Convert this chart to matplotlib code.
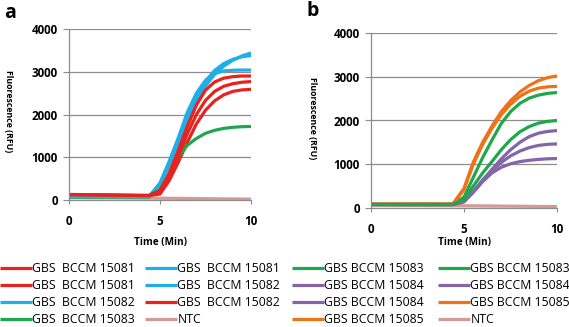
import matplotlib
matplotlib.use("Agg")
import matplotlib.pyplot as plt

# time points (min)
t = [0, 1, 2, 3, 4, 4.4, 5, 5.5, 6, 6.5, 7, 7.5, 8, 8.5, 9, 9.5, 10]

# panel a
a_blue1 = [80, 80, 80, 80, 80, 80, 350, 800, 1320, 1850, 2300, 2670, 2940, 3130, 3270, 3370, 3440]
a_blue2 = [80, 80, 80, 80, 80, 80, 380, 850, 1400, 1950, 2420, 2780, 3030, 3190, 3290, 3350, 3380]
a_blue3 = [80, 80, 80, 80, 80, 80, 400, 900, 1450, 2050, 2500, 2800, 2960, 3020, 3035, 3040, 3040]
a_red1 = [130, 125, 120, 115, 110, 110, 220, 620, 1150, 1720, 2220, 2570, 2760, 2850, 2885, 2900, 2900]
a_red2 = [125, 120, 115, 110, 105, 105, 180, 540, 1020, 1550, 2000, 2330, 2540, 2660, 2720, 2755, 2770]
a_red3 = [120, 115, 110, 105, 100, 100, 140, 450, 880, 1350, 1780, 2100, 2320, 2460, 2540, 2575, 2590]
a_green = [70, 70, 70, 70, 70, 70, 250, 600, 1000, 1280, 1440, 1560, 1630, 1675, 1700, 1715, 1720]
a_ntc = [55, 52, 50, 48, 45, 44, 42, 40, 38, 36, 33, 31, 29, 26, 24, 22, 20]

# panel b
b_orange1 = [90, 90, 90, 90, 90, 90, 450, 1050, 1500, 1870, 2200, 2450, 2650, 2800, 2910, 2980, 3020]
b_orange2 = [90, 90, 90, 90, 90, 90, 420, 1000, 1450, 1820, 2130, 2370, 2550, 2670, 2740, 2770, 2780]
b_green1 = [80, 80, 80, 80, 80, 80, 250, 700, 1150, 1550, 1930, 2200, 2390, 2510, 2580, 2620, 2640]
b_green2 = [80, 80, 80, 80, 80, 80, 200, 500, 800, 1060, 1330, 1560, 1740, 1860, 1940, 1980, 2000]
b_purple1 = [80, 80, 80, 80, 80, 80, 150, 380, 640, 880, 1120, 1330, 1500, 1630, 1710, 1750, 1770]
b_purple2 = [80, 80, 80, 80, 80, 80, 150, 370, 620, 850, 1040, 1190, 1300, 1380, 1430, 1455, 1465]
b_purple3 = [80, 80, 80, 80, 80, 80, 140, 360, 600, 800, 930, 1010, 1060, 1090, 1110, 1125, 1130]
b_ntc = [65, 62, 60, 58, 56, 55, 52, 50, 48, 46, 44, 42, 40, 38, 36, 34, 32]

xticks = [0, 5, 10]
yticks = [0, 1000, 2000, 3000, 4000]

RED = "#e8221e"
BLUE = "#20aee6"
GREEN = "#1fa84b"
PURPLE = "#8465a8"
ORANGE = "#ee7318"
NTC = "#d49a98"

# legend order: first column then second column
series_a = [
    (a_red1, RED, "GBS  BCCM 15081"),
    (a_red2, RED, "GBS  BCCM 15081"),
    (a_blue2, BLUE, "GBS  BCCM 15082"),
    (a_green, GREEN, "GBS  BCCM 15083"),
    (a_blue1, BLUE, "GBS  BCCM 15081"),
    (a_blue3, BLUE, "GBS  BCCM 15082"),
    (a_red3, RED, "GBS  BCCM 15082"),
    (a_ntc, NTC, "NTC"),
]
series_b = [
    (b_green2, GREEN, "GBS BCCM 15083"),
    (b_purple1, PURPLE, "GBS BCCM 15084"),
    (b_purple3, PURPLE, "GBS BCCM 15084"),
    (b_orange2, ORANGE, "GBS BCCM 15085"),
    (b_green1, GREEN, "GBS BCCM 15083"),
    (b_purple2, PURPLE, "GBS BCCM 15084"),
    (b_orange1, ORANGE, "GBS BCCM 15085"),
    (b_ntc, NTC, "NTC"),
]

plt.rcParams["font.family"] = ["Open Sans", "DejaVu Sans"]

fig = plt.figure(figsize=(5.69, 3.27), dpi=100)
ax_a = fig.add_axes([69 / 569, 1 - 200 / 327, 182 / 569, 171 / 327])
ax_b = fig.add_axes([371 / 569, 1 - 208 / 327, 186 / 569, 175 / 327])


def style(ax):
    ax.set_xlim(0, 10)
    ax.set_ylim(0, 4000)
    ax.set_xticks(xticks)
    ax.set_yticks(yticks)
    ax.grid(axis="y", color="#8c8c8c", lw=0.9)
    ax.set_axisbelow(True)
    for s in ["top", "right"]:
        ax.spines[s].set_visible(False)
    for s in ["left", "bottom"]:
        ax.spines[s].set_color("#8c8c8c")
        ax.spines[s].set_linewidth(0.9)
    ax.tick_params(axis="y", length=4, color="#8c8c8c", pad=4, labelsize=8.4)
    ax.tick_params(axis="x", length=3, color="#8c8c8c", pad=8, labelsize=8.4)
    for lab in ax.get_xticklabels() + ax.get_yticklabels():
        lab.set_fontweight("bold")


for ax, series in [(ax_a, series_a), (ax_b, series_b)]:
    style(ax)
    # draw NTC first so it sits underneath
    for vals, col, lab in series[::-1]:
        ax.plot(t, vals, color=col, lw=2.3, label=lab, solid_capstyle="butt",
                clip_on=False)

ha, la = ax_a.get_legend_handles_labels()
hb, lb = ax_b.get_legend_handles_labels()
leg_kw = dict(ncol=2, loc="upper left", frameon=False, fontsize=8.8,
              handlelength=2.6, handletextpad=0.05,
              labelspacing=0.34, borderpad=0, borderaxespad=0)
fig.legend(ha[::-1], la[::-1], bbox_to_anchor=(0 / 569, 1 - 262 / 327),
           columnspacing=0.8, **leg_kw)
fig.legend(hb[::-1], lb[::-1], bbox_to_anchor=(292 / 569, 1 - 262 / 327),
           columnspacing=1.15, **leg_kw)

# axis titles
fig.text(160 / 569, 1 - 243 / 327, "Time (Min)", ha="center", va="center",
         fontsize=7.2, fontweight="bold")
fig.text(464 / 569, 1 - 243 / 327, "Time (Min)", ha="center", va="center",
         fontsize=7.2, fontweight="bold")
fig.text(8 / 569, 1 - 111 / 327, "Fluorescence (RFU)", ha="center", va="center",
         rotation=270, fontsize=6.3, fontweight="bold")
fig.text(313 / 569, 1 - 118 / 327, "Fluorescence (RFU)", ha="center", va="center",
         rotation=270, fontsize=6.3, fontweight="bold")

# panel letters
fig.text(4 / 569, 1 - 13 / 327, "a", ha="left", va="center", fontsize=14,
         fontweight="bold")
fig.text(306 / 569, 1 - 11 / 327, "b", ha="left", va="center", fontsize=14,
         fontweight="bold")

fig.savefig("out.png", dpi=100)
